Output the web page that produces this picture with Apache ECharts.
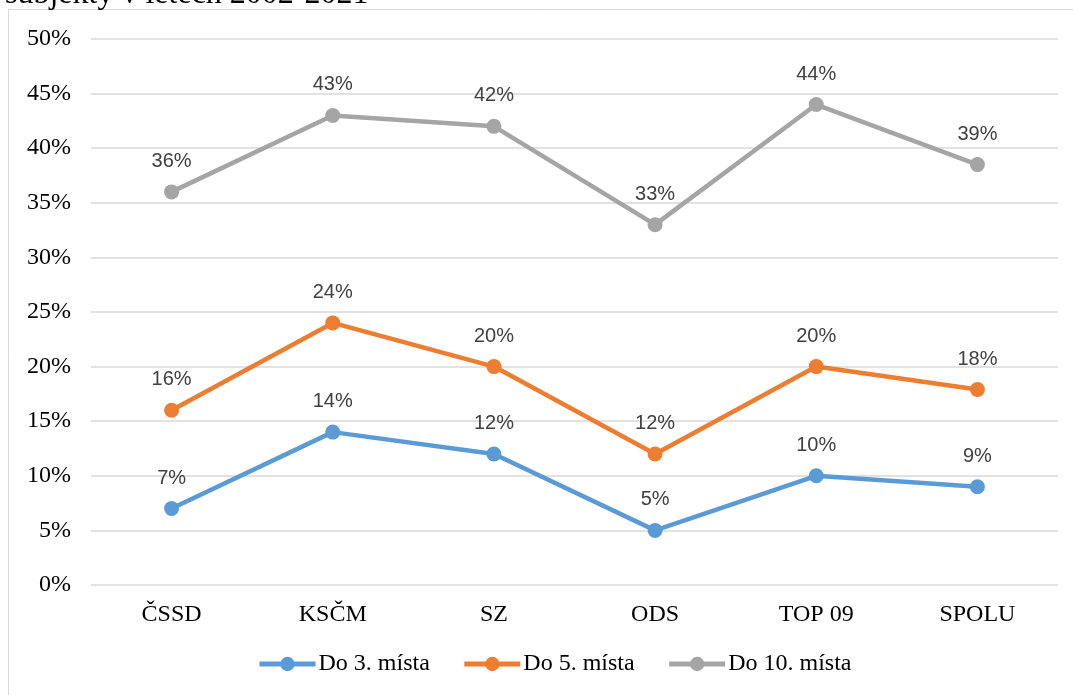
<!DOCTYPE html>
<html><head><meta charset="utf-8">
<script src="https://cdn.jsdelivr.net/npm/echarts@6/dist/echarts.min.js"></script>
<style>html,body{margin:0;padding:0;background:#fff}#c{width:1073px;height:695px}</style>
</head><body><div id="c"></div>
<script>
const categories = ['ČSSD','KSČM','SZ','ODS','TOP 09','SPOLU'];
const seriesNames = ['Do 3. místa','Do 5. místa','Do 10. místa'];
const top3 = [7, 14, 12, 5, 10, 9];
const top5 = [16, 24, 20, 12, 20, 17.9];
const top10 = [36, 43, 42, 33, 44, 38.5];
const yTicks = [0,5,10,15,20,25,30,35,40,45,50];
const colors = ['#5b9bd5','#ed7d31','#a5a5a5'];
const titleText = 'subjekty v letech 2002-2021';

const chart = echarts.init(document.getElementById('c'));
const mk = (name, data, color) => ({
  name, type:'line', data, color,
  lineStyle:{width:4.5, color},
  itemStyle:{color},
  symbol:'circle', symbolSize:15,
  label:{show:true, position:'top', distance:13, color:'#404040',
    fontFamily:'Liberation Sans', fontSize:20,
    formatter: p => Math.round(p.value)+'%'}
});
chart.setOption({
  animation:false,
  backgroundColor:'#fff',
  graphic:[
    {type:'rect', shape:{x:8.5,y:9.5,width:1080,height:700}, style:{fill:'none', stroke:'#d9d9d9', lineWidth:1}},
    {type:'text', x:5, y:11, style:{text:titleText, font:'32px "Liberation Serif"', fill:'#000', verticalAlign:'bottom'}}
  ],
  grid:{left:91, right:15, top:39, bottom:110},
  legend:{bottom:14, left:252, itemWidth:56, itemHeight:18, itemGap:32,
    lineStyle:{width:5},
    textStyle:{fontFamily:'Liberation Serif', fontSize:24, color:'#000', padding:[0,0,0,-2]},
    data:seriesNames},
  xAxis:{type:'category', data:categories, boundaryGap:true,
    axisLine:{show:false}, axisTick:{show:false},
    axisLabel:{fontFamily:'Liberation Serif', fontSize:24, color:'#000', margin:18}},
  yAxis:{type:'value', min:0, max:50, interval:5,
    axisLine:{show:false}, axisTick:{show:false},
    splitLine:{lineStyle:{color:'#d9d9d9', width:1.5}},
    axisLabel:{fontFamily:'Liberation Serif', fontSize:24, color:'#000', margin:20,
      formatter: v => yTicks.includes(v) ? v+'%' : ''}},
  series:[mk(seriesNames[0], top3, colors[0]), mk(seriesNames[1], top5, colors[1]), mk(seriesNames[2], top10, colors[2])]
});
</script></body></html>
